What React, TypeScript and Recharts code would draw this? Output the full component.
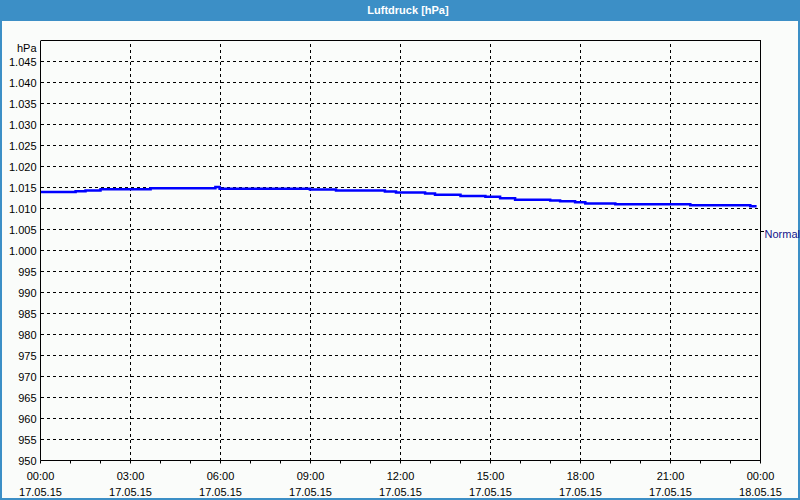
import { LineChart, Line, XAxis, YAxis, CartesianGrid, ReferenceLine } from "recharts";

// pressure log, hours since 17.05.15 00:00 -> hPa (steps)
const hours = [0, 1.17, 1.5, 2.0, 3.67, 5.83, 5.97, 8.98, 9.85, 11.48, 11.85, 12.82, 13.15, 14.0, 14.83, 15.32, 15.82, 16.99, 17.32, 17.82, 18.16, 19.16, 21.66, 23.66, 23.87];
const pressure = [1013.9, 1014.1, 1014.3, 1014.6, 1014.8, 1015.1, 1014.7, 1014.5, 1014.3, 1014.05, 1013.8, 1013.6, 1013.3, 1013.0, 1012.8, 1012.45, 1012.1, 1011.9, 1011.7, 1011.5, 1011.2, 1011.0, 1010.8, 1010.55, 1010.55];

const xTicks = [0, 1, 2, 3, 4, 5, 6, 7, 8, 9, 10, 11, 12, 13, 14, 15, 16, 17, 18, 19, 20, 21, 22, 23, 24];
const gridHours = [3, 6, 9, 12, 15, 18, 21];
const days = ["17.05.15", "18.05.15"];
const yTicks = [950, 955, 960, 965, 970, 975, 980, 985, 990, 995, 1000, 1005, 1010, 1015, 1020, 1025, 1030, 1035, 1040, 1045, 1050];
const seriesName = "Normal";
const seriesLabelAt = 1004.5;
const unit = "hPa";
const title = "Luftdruck [hPa]";

const FONT = "'Liberation Sans', Arial, sans-serif";
const BLUE = "#3c8fc6";

const data = hours.map((h, i) => ({ h, p: pressure[i] }));

const fmtY = (v: number) =>
  v >= 1000 ? `${Math.floor(v / 1000)}.${String(v % 1000).padStart(3, "0")}` : String(v);

// eslint-disable-next-line @typescript-eslint/no-explicit-any
const XTick = (props: any) => {
  const { x, y, payload } = props;
  const h = payload.value;
  if (h % 3 !== 0) return <g />;
  const time = `${String(h % 24).padStart(2, "0")}:00`;
  return (
    <text x={x} y={y} textAnchor="middle" fill="#000" fontSize={11} fontFamily={FONT}>
      <tspan x={x} dy={14}>{time}</tspan>
      <tspan x={x} dy={16}>{h < 24 ? days[0] : days[1]}</tspan>
    </text>
  );
};

// eslint-disable-next-line @typescript-eslint/no-explicit-any
const YTick = (props: any) => {
  const { x, y, payload } = props;
  const v = payload.value;
  const top = v === 1050;
  return (
    <text x={x} y={y} dy={top ? 11 : 4.5} textAnchor="end" fill="#000" fontSize={11} fontFamily={FONT}>
      {top ? unit : fmtY(v)}
    </text>
  );
};

// series name at the right edge of the plot, with a small tick
// eslint-disable-next-line @typescript-eslint/no-explicit-any
const SeriesLabel = (props: any) => {
  const vb = props.viewBox || {};
  const xr = vb.x + vb.width;
  const y = vb.y;
  return (
    <g>
      <line x1={xr} x2={xr + 3} y1={y} y2={y} stroke="#000" shapeRendering="crispEdges" />
      <text x={xr + 4} y={y} dy={6} textAnchor="start" fill="#14148c" fontSize={11} fontFamily={FONT}>
        {seriesName}
      </text>
    </g>
  );
};

export default function App() {
  return (
    <div style={{ position: "fixed", left: 0, top: 0, width: 800, height: 500, background: BLUE }}>
      <div
        style={{
          position: "absolute",
          left: 0,
          top: 0,
          width: 800,
          height: 21,
          lineHeight: "21px",
          color: "#fff",
          fontFamily: FONT,
          fontWeight: "bold",
          fontSize: 11,
          textAlign: "center",
          paddingLeft: 16,
          boxSizing: "border-box",
        }}
      >
        {title}
      </div>
      <div style={{ position: "absolute", left: 2, top: 21, width: 796, height: 477, background: "#fafcfa" }} />
      <div style={{ position: "absolute", left: 0, top: 21 }}>
        <LineChart width={800} height={480} data={data} margin={{ top: 19.5, right: 39.5, bottom: 0, left: 0 }}>
          <CartesianGrid vertical={false} stroke="#000" strokeDasharray="3 3" shapeRendering="crispEdges" />
          {gridHours.map((h) => (
            <ReferenceLine key={h} x={h} stroke="#000" strokeDasharray="3 3" shapeRendering="crispEdges" />
          ))}
          <ReferenceLine y={1050} stroke="#000" shapeRendering="crispEdges" />
          <ReferenceLine x={24} stroke="#000" shapeRendering="crispEdges" />
          <ReferenceLine y={seriesLabelAt} stroke="none" label={<SeriesLabel />} />
          <XAxis
            dataKey="h"
            type="number"
            domain={[0, 24]}
            ticks={xTicks}
            interval={0}
            height={40.5}
            tickSize={3}
            tickMargin={2}
            axisLine={{ stroke: "#000" }}
            tickLine={{ stroke: "#000" }}
            tick={<XTick />}
          />
          <YAxis
            type="number"
            domain={[950, 1050]}
            ticks={yTicks}
            interval={0}
            width={40.5}
            tickSize={0}
            tickMargin={4}
            axisLine={{ stroke: "#000" }}
            tickLine={false}
            tick={<YTick />}
          />
          <Line
            type="stepAfter"
            dataKey="p"
            stroke="#0000ff"
            strokeWidth={2.5}
            dot={false}
            isAnimationActive={false}
          />
        </LineChart>
      </div>
    </div>
  );
}
